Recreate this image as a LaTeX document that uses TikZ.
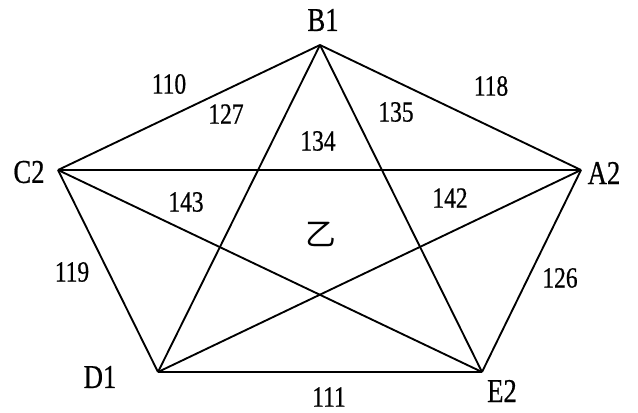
\documentclass[tikz,border=0pt]{standalone}
\usepackage{fontspec}
\newfontfamily\cjk{Noto Sans CJK SC}
\newfontfamily\numfont{Liberation Serif}[FakeStretch=0.8, FakeBold=0.6]
\usetikzlibrary{positioning}

\begin{document}
\begin{tikzpicture}[
  x=0.75pt, y=-0.75pt,
  edge/.style={line width=1.4pt, black, line join=round},
  vlbl/.style={font=\numfont\fontsize{25pt}{25pt}\selectfont, inner sep=0pt},
  wlbl/.style={font=\numfont\fontsize{22pt}{22pt}\selectfont, inner sep=0pt}
]
  \useasboundingbox (0,0) rectangle (638,412);
  % vertices
  \coordinate (B1) at (320,45);
  \coordinate (A2) at (581,170);
  \coordinate (E2) at (482,372);
  \coordinate (D1) at (158,372);
  \coordinate (C2) at (58,170);

  % all ten connections
  \foreach \a/\b in {B1/A2, A2/E2, E2/D1, D1/C2, C2/B1,
                     B1/D1, B1/E2, C2/A2, C2/E2, D1/A2}
    \draw[edge] (\a) -- (\b);

  % vertex names
  \node[vlbl] (nB1) at (323,20)  {B1};
  \node[vlbl] (nA2) at (604,173) {A2};
  \node[vlbl] (nE2) at (502,391) {E2};
  \node[vlbl] (nD1) at (100,377) {D1};
  \node[vlbl] (nC2) at (29,172)  {C2};

  % edge weights
  \node[wlbl] (w110) at (169,84)  {110};
  \node[wlbl] (w127) at (226,114) {127};
  \node[wlbl] (w134) at (318,141) {134};
  \node[wlbl] (w135) at (396,112) {135};
  \node[wlbl] (w118) at (491,86)  {118};
  \node[wlbl] (w143) at (186,202) {143};
  \node[wlbl] (w142) at (450,198) {142};
  \node[wlbl] (w119) at (72,272)  {119};
  \node[wlbl] (w126) at (560,278) {126};
  \node[wlbl] (w111) at (329,397) {111};
  \node[font=\cjk\fontsize{23pt}{23pt}\selectfont, inner sep=0pt] (yi) at (321,234) {乙};
\end{tikzpicture}
\end{document}
